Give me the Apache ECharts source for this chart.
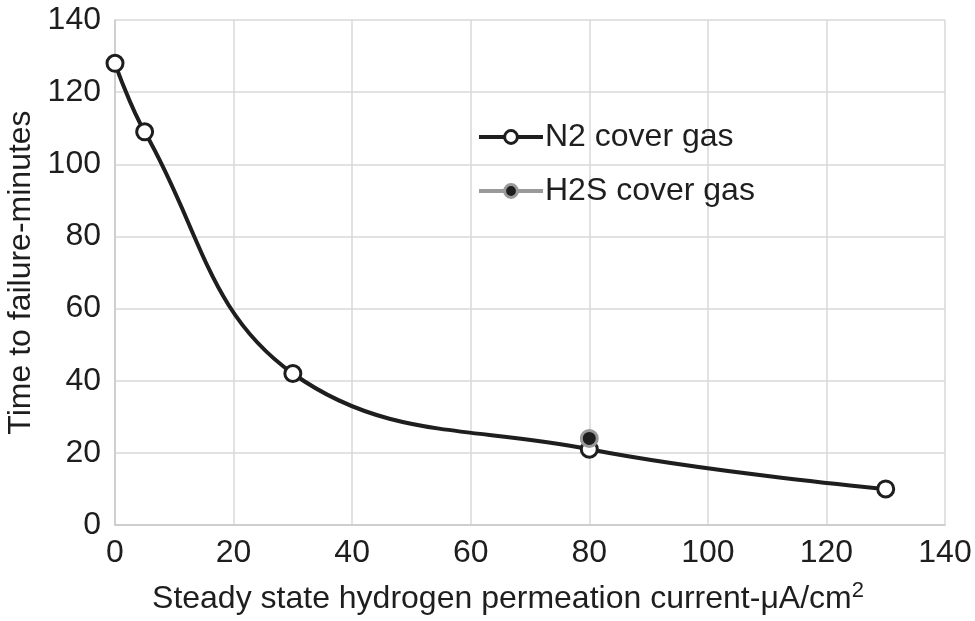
<!DOCTYPE html>
<html>
<head>
<meta charset="utf-8">
<script src="https://cdn.jsdelivr.net/npm/echarts@6/dist/echarts.min.js"></script>
<style>
  html, body { margin: 0; padding: 0; background: #fff; }
  #chart { width: 975px; height: 621px; }
</style>
</head>
<body>
<div id="chart"></div>
<script>
// values
var n2Current = [0, 5, 30, 80, 130];
var n2Time = [128, 109, 42, 21, 10];
var h2sCurrent = [80];
var h2sTime = [24];

var toPairs = function (xs, ys) {
  return xs.map(function (x, i) { return [x, ys[i]]; });
};

var myChart = echarts.init(document.getElementById('chart'));
var font = 'Liberation Sans, Arial, Helvetica, sans-serif';
var ink = '#1e1e1e';

var option = {
  animation: false,
  grid: { left: 115, right: 30, top: 20, bottom: 96, outerBoundsMode: 'none', containLabel: false },
  legend: {
    orient: 'vertical',
    left: 472,
    top: 116,
    itemWidth: 64,
    itemHeight: 16,
    itemGap: 22,
    textStyle: { fontSize: 32, color: ink, fontFamily: font, padding: [0, 0, 0, -3] },
    data: [
      { name: 'N2 cover gas', lineStyle: { width: 4, color: ink }, itemStyle: { color: '#fff', borderColor: ink, borderWidth: 3 } },
      { name: 'H2S cover gas', lineStyle: { width: 4, color: '#9a9a9a' }, itemStyle: { color: ink, borderColor: '#9a9a9a', borderWidth: 3 } }
    ]
  },
  xAxis: {
    type: 'value',
    min: 0, max: 140, interval: 20,
    name: '{t|Steady state hydrogen permeation current-\u03bcA/cm}{s|2}',
    nameLocation: 'middle',
    nameGap: 55,
    nameTextStyle: {
      padding: [0, 44, 0, 0],
      rich: {
        t: { fontSize: 32, color: ink, fontFamily: font },
        s: { fontSize: 22, color: ink, fontFamily: font, verticalAlign: 'top', padding: [0, 0, 16, 0] }
      }
    },
    axisLine: { lineStyle: { color: '#c8c8c8', width: 1.5 } },
    axisTick: { show: false },
    axisLabel: { fontSize: 32, color: ink, fontFamily: font, margin: 12 },
    splitLine: { lineStyle: { color: '#d9d9d9', width: 1.5 } }
  },
  yAxis: {
    type: 'value',
    min: 0, max: 140, interval: 20,
    name: 'Time to failure-minutes',
    nameLocation: 'middle',
    nameGap: 78,
    nameTextStyle: { fontSize: 32, color: ink, fontFamily: font },
    axisLine: { show: true, lineStyle: { color: '#c8c8c8', width: 1.5 } },
    axisTick: { show: false },
    axisLabel: { fontSize: 32, color: ink, fontFamily: font, margin: 14 },
    splitLine: { lineStyle: { color: '#d9d9d9', width: 1.5 } }
  },
  series: [
    {
      name: 'N2 cover gas',
      type: 'line',
      smooth: 0.4,
      data: toPairs(n2Current, n2Time),
      symbol: 'circle',
      symbolSize: 16,
      lineStyle: { color: ink, width: 4 },
      itemStyle: { color: '#fff', borderColor: ink, borderWidth: 3 },
      z: 3
    },
    {
      name: 'H2S cover gas',
      type: 'line',
      data: toPairs(h2sCurrent, h2sTime),
      symbol: 'circle',
      symbolSize: 16,
      lineStyle: { color: '#9a9a9a', width: 4 },
      itemStyle: { color: ink, borderColor: '#9a9a9a', borderWidth: 3 },
      z: 4
    }
  ]
};

myChart.setOption(option);
</script>
</body>
</html>
